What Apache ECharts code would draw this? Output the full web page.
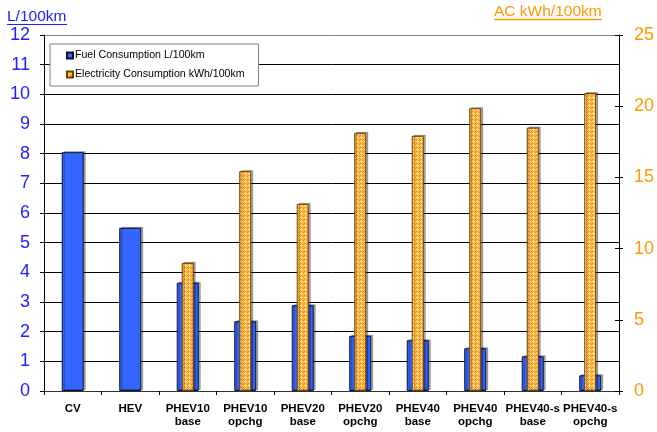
<!DOCTYPE html>
<html>
<head>
<meta charset="utf-8">
<script src="https://cdn.jsdelivr.net/npm/echarts@6/dist/echarts.min.js"></script>
<style>
  html, body { margin: 0; padding: 0; background: #fff; }
  #chart { width: 657px; height: 432px; }
</style>
</head>
<body>
<div id="chart"></div>
<script>
// Vehicle configurations
const categories = ['CV\n', 'HEV\n', 'PHEV10\nbase', 'PHEV10\nopchg', 'PHEV20\nbase',
  'PHEV20\nopchg', 'PHEV40\nbase', 'PHEV40\nopchg', 'PHEV40-s\nbase', 'PHEV40-s\nopchg'];

// Fuel consumption, L/100km
const fuelValues = [8.05, 5.5, 3.65, 2.35, 2.89, 1.86, 1.71, 1.44, 1.17, 0.53];

// AC electricity consumption, kWh/100km
const elecValues = [null, null, 9.0, 15.44, 13.14, 18.13, 17.92, 19.86, 18.5, 20.92];

const leftTicks = { min: 0, max: 12, interval: 1 };
const rightTicks = { min: 0, max: 25, interval: 5 };

const seriesNames = ['Fuel Consumption L/100km', 'Electricity Consumption kWh/100km'];

const FONT = 'Liberation Sans, Arial, sans-serif';

// Small checkered tile for the electricity bars
function makePattern() {
  const c = document.createElement('canvas');
  c.width = 4; c.height = 4;
  const g = c.getContext('2d');
  g.fillStyle = '#ff9f1a';
  g.fillRect(0, 0, 4, 4);
  g.fillStyle = '#ffe2a6';
  g.fillRect(1, 0, 1, 1);
  g.fillRect(0, 1, 3, 1);
  g.fillRect(1, 2, 1, 1);
  g.fillStyle = '#ffc766';
  g.fillRect(3, 2, 1, 1);
  g.fillRect(2, 3, 1, 1);
  return c;
}
const pattern = { image: makePattern(), repeat: 'repeat' };

// Gridlines: black, except the gray top border of the plot
const gridColors = [];
for (let i = leftTicks.min; i <= leftTicks.max; i++) {
  gridColors.push(i === leftTicks.max ? '#808080' : '#000000');
}

const barShadow = {
  shadowColor: 'rgba(0,0,0,0.3)',
  shadowOffsetX: 2,
  shadowOffsetY: -1,
  shadowBlur: 0
};

const chart = echarts.init(document.getElementById('chart'), null, { renderer: 'canvas' });

chart.setOption({
  animation: false,
  backgroundColor: '#ffffff',
  grid: { left: 44, right: 37, top: 35, bottom: 41, containLabel: false },
  legend: {
    orient: 'vertical',
    left: 50,
    top: 44,
    data: seriesNames,
    backgroundColor: '#ffffff',
    borderColor: '#808080',
    borderWidth: 1,
    padding: [6, 14, 6, 16],
    itemGap: 8,
    itemWidth: 6,
    itemHeight: 6,
    icon: 'rect',
    textStyle: { fontFamily: FONT, fontSize: 10.6, color: '#000', padding: [0, 0, 0, -3] }
  },
  graphic: [
    {
      type: 'text', left: 7, top: 9,
      style: { text: 'L/100km', fill: '#2020ff', font: '15.5px "Liberation Sans", Arial, sans-serif' }
    },
    {
      type: 'line', shape: { x1: 7, y1: 24.5, x2: 67, y2: 24.5 },
      style: { stroke: '#2020ff', lineWidth: 1 }
    },
    {
      type: 'text', left: 494, top: 4,
      style: { text: 'AC kWh/100km', fill: '#ff9900', font: '15.5px "Liberation Sans", Arial, sans-serif' }
    },
    {
      type: 'line', shape: { x1: 494, y1: 19.5, x2: 602, y2: 19.5 },
      style: { stroke: '#ff9900', lineWidth: 1.5 }
    }
  ],
  xAxis: [
    {
      type: 'category',
      data: categories,
      boundaryGap: true,
      axisLine: { lineStyle: { color: '#333333', width: 1 } },
      axisTick: { show: true, alignWithLabel: false, length: 4, lineStyle: { color: '#000' } },
      axisLabel: {
        interval: 0, margin: 11, color: '#000', fontWeight: 'bold', fontSize: 11.5, lineHeight: 13,
        fontFamily: FONT
      },
      splitLine: { show: false }
    },
    {
      type: 'category',
      data: categories,
      show: false
    }
  ],
  yAxis: [
    {
      type: 'value',
      min: leftTicks.min, max: leftTicks.max, interval: leftTicks.interval,
      position: 'left',
      axisLine: { show: true, lineStyle: { color: '#000', width: 1 } },
      axisTick: { show: true, length: 4, lineStyle: { color: '#000' } },
      axisLabel: { margin: 14, color: '#2020ff', fontSize: 18, fontFamily: FONT },
      splitLine: { show: true, lineStyle: { color: gridColors, width: 1 } }
    },
    {
      type: 'value',
      min: rightTicks.min, max: rightTicks.max, interval: rightTicks.interval,
      position: 'right',
      axisLine: { show: true, lineStyle: { color: '#000', width: 1 } },
      axisTick: { show: true, length: 4, lineStyle: { color: '#000' } },
      axisLabel: { margin: 15, color: '#ff9900', fontSize: 18, fontFamily: FONT },
      splitLine: { show: false }
    },
    {
      // inner half of the crossing ticks on the right axis
      type: 'value',
      min: rightTicks.min, max: rightTicks.max, interval: rightTicks.interval,
      position: 'right',
      axisLine: { show: false },
      axisTick: { show: true, inside: true, length: 4, lineStyle: { color: '#000' } },
      axisLabel: { show: false },
      splitLine: { show: false }
    }
  ],
  series: [
    {
      name: seriesNames[0],
      type: 'bar',
      xAxisIndex: 0,
      yAxisIndex: 0,
      data: fuelValues,
      barWidth: 22,
      itemStyle: Object.assign({
        color: '#3366ff',
        borderColor: '#101030',
        borderWidth: 1
      }, barShadow),
      z: 2
    },
    {
      name: seriesNames[1],
      type: 'bar',
      xAxisIndex: 1,
      yAxisIndex: 1,
      data: elecValues,
      barWidth: 12,
      itemStyle: Object.assign({
        color: pattern,
        borderColor: '#6b4200',
        borderWidth: 1
      }, barShadow),
      z: 3
    }
  ]
});
</script>
</body>
</html>
